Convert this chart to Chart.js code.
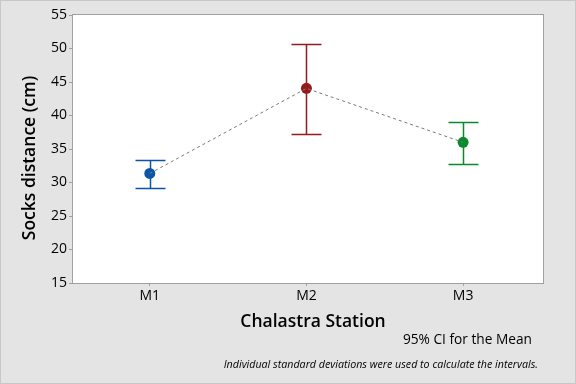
<!DOCTYPE html>
<html>
<head>
<meta charset="utf-8">
<script src="https://cdn.jsdelivr.net/npm/chart.js@4/dist/chart.umd.min.js"></script>
<style>
  html, body { margin: 0; padding: 0; background: #e4e4e4; }
  #wrap { position: relative; width: 576px; height: 384px; overflow: hidden; }
  canvas { position: absolute; left: 0; top: 0; }
  .note { position: absolute; color: #000; white-space: nowrap; }
  #ci { right: 44px; top: 329px; font: 13.7px "Open Sans", sans-serif; }
  #foot { right: 38px; top: 357px; font: italic 10.7px "Open Sans", sans-serif; }
</style>
</head>
<body>
<div id="wrap">
  <canvas id="c" width="576" height="384"></canvas>
  <div class="note" id="ci">95% CI for the Mean</div>
  <div class="note" id="foot">Individual standard deviations were used to calculate the intervals.</div>
</div>
<script>
const categories = ['M1', 'M2', 'M3'];
const means = [31.35, 44.05, 36.0];
const upperCI = [33.3, 50.65, 39.1];
const lowerCI = [29.25, 37.3, 32.7];
const yTicks = [15, 20, 25, 30, 35, 40, 45, 50, 55];
const xTitle = 'Chalastra Station';
const yTitle = 'Socks distance (cm)';
const groupColors = ['#0a56a6', '#951a1e', '#0a8a2c'];

const pts = means.map((m, i) => ({ x: i, y: m }));

const bgPlugin = {
  id: 'bg',
  beforeDraw(chart) {
    const ctx = chart.ctx;
    ctx.save();
    ctx.fillStyle = '#e4e4e4';
    ctx.fillRect(0, 0, chart.width, chart.height);
    ctx.strokeStyle = '#c8c8c8';
    ctx.lineWidth = 1;
    ctx.strokeRect(0.5, 0.5, chart.width - 1, chart.height - 1);
    const a = chart.chartArea;
    ctx.fillStyle = '#ffffff';
    ctx.fillRect(a.left, a.top, a.right - a.left, a.bottom - a.top);
    ctx.strokeStyle = '#a0a0a0';
    ctx.strokeRect(a.left - 0.5, a.top - 0.5, a.right - a.left + 1, a.bottom - a.top + 1);
    ctx.restore();
  },
  afterDraw(chart) {
    const ctx = chart.ctx;
    const a = chart.chartArea;
    ctx.save();
    ctx.fillStyle = '#000';
    ctx.font = '600 17.5px "Open Sans", sans-serif';
    ctx.textAlign = 'center';
    ctx.textBaseline = 'middle';
    ctx.fillText(xTitle, (a.left + a.right) / 2 + 5, 322);
    ctx.translate(30, (a.top + a.bottom) / 2 + 9);
    ctx.rotate(-Math.PI / 2);
    ctx.fillText(yTitle, 0, 0);
    ctx.restore();
  }
};

const errPlugin = {
  id: 'errbars',
  beforeDatasetsDraw(chart) {
    const ctx = chart.ctx;
    const xs = chart.scales.x, ys = chart.scales.y;
    ctx.save();
    ctx.lineWidth = 1.5;
    categories.forEach((c, i) => {
      const x = Math.round(xs.getPixelForValue(i)) + 0.5;
      const yu = Math.round(ys.getPixelForValue(upperCI[i])) + 0.5;
      const yl = Math.round(ys.getPixelForValue(lowerCI[i])) + 0.5;
      ctx.strokeStyle = groupColors[i];
      ctx.beginPath();
      ctx.moveTo(x, yu); ctx.lineTo(x, yl);
      ctx.moveTo(x - 15, yu); ctx.lineTo(x + 15, yu);
      ctx.moveTo(x - 15, yl); ctx.lineTo(x + 15, yl);
      ctx.stroke();
    });
    ctx.restore();
  }
};

new Chart(document.getElementById('c'), {
  type: 'scatter',
  data: {
    datasets: [
      {
        label: 'Connect',
        data: pts,
        showLine: true,
        borderColor: '#7a7a7a',
        borderWidth: 1,
        borderDash: [3, 3],
        pointRadius: 0,
        fill: false,
        order: 0
      },
      {
        label: 'Mean',
        data: pts,
        showLine: false,
        pointRadius: 5.5,
        pointHoverRadius: 5.5,
        pointBackgroundColor: groupColors,
        pointBorderColor: groupColors,
        pointBorderWidth: 0,
        order: 1
      }
    ]
  },
  plugins: [bgPlugin, errPlugin],
  options: {
    responsive: false,
    animation: false,
    events: [],
    layout: { padding: { left: 16, top: 15, right: 33, bottom: 48 } },
    plugins: { legend: { display: false }, tooltip: { enabled: false } },
    scales: {
      x: {
        type: 'linear',
        min: -0.49,
        max: 2.51,
        afterBuildTicks(scale) { scale.ticks = categories.map((c, i) => ({ value: i })); },
        afterFit(scale) { scale.height = 53; },
        ticks: {
          callback: (v) => categories[v] ?? '',
          color: '#000',
          font: { family: 'Open Sans', size: 14 },
          padding: 2,
          maxRotation: 0
        },
        grid: { display: true, drawOnChartArea: false, tickLength: 3, color: '#a0a0a0' },
        border: { display: false },
        title: { display: false }
      },
      y: {
        type: 'linear',
        min: 15,
        max: 55,
        afterBuildTicks(scale) { scale.ticks = yTicks.map(v => ({ value: v })); },
        afterFit(scale) { scale.width = 57; },
        ticks: {
          color: '#000',
          font: { family: 'Open Sans', size: 14 },
          padding: 2
        },
        grid: { display: true, drawOnChartArea: false, tickLength: 4, color: '#a0a0a0' },
        border: { display: false },
        title: { display: false }
      }
    }
  }
});
</script>
</body>
</html>
